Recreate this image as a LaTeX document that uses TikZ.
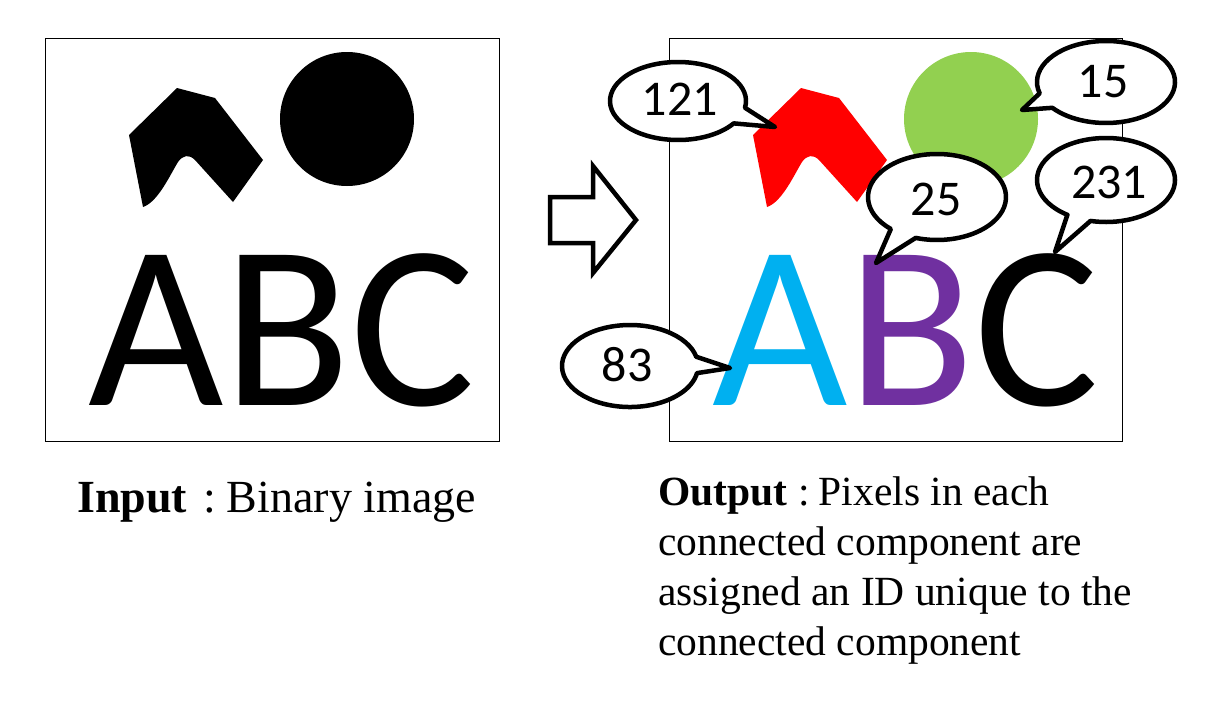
\documentclass[tikz,border=0pt]{standalone}
\usepackage{fontspec}
\setmainfont{Liberation Serif}
\newfontfamily\calfont{Carlito}
\usetikzlibrary{calc}
\definecolor{cred}{HTML}{FF0000}
\definecolor{cgreen}{HTML}{92D050}
\definecolor{ccyan}{HTML}{00B0F0}
\definecolor{cpurple}{HTML}{7030A0}
\begin{document}
\begin{tikzpicture}[x=1pt,y=-1pt,
  frame/.style={draw=black, line width=1pt},
  callout/.style={draw=black, fill=white, line width=4.5pt, line join=round},
  idtext/.style={font=\calfont\fontsize{50}{50}\selectfont, inner sep=0pt},
  bigtext/.style={font=\calfont\fontsize{234}{234}\selectfont, inner sep=0pt, anchor=base west},
  captext/.style={font=\fontsize{41.5}{50}\selectfont, inner sep=0pt, anchor=base west},
  blockarrow/.style={draw=black, line width=4.5pt, line join=miter}]
\useasboundingbox (0,0) rectangle (1212,726);
% frames
\draw[frame] (45,38) rectangle (499,441);
\draw[frame] (669,38) rectangle (1122,441);
% input shapes
\fill[black] (129,135) -- (177,88) -- (215,98) -- (263,160) -- (233,202) -- (195,160)
  .. controls (189,154) and (183,155) .. (178,162)
  .. controls (170,175) and (158,202) .. (143,207) -- cycle;
\fill[black] (347,119) circle[radius=67];
\node[bigtext] (abcin) at (88,405) {ABC};
% output shapes
\begin{scope}[xshift=624pt]
\fill[cred] (129,135) -- (177,88) -- (215,98) -- (263,160) -- (233,202) -- (195,160)
  .. controls (189,154) and (183,155) .. (178,162)
  .. controls (170,175) and (158,202) .. (143,207) -- cycle;
\fill[cgreen] (347,119) circle[radius=67];
\end{scope}
\node[bigtext] (abcout) at (712,405) {\textcolor{ccyan}{A}\textcolor{cpurple}{B}C};
% block arrow
\draw[blockarrow] (550,197) -- (593,197) -- (593,166) -- (636,220) -- (593,273) -- (593,243) -- (550,243) -- cycle;
% callouts
\coordinate (t121) at (775,127);
\draw[callout] ($(678,101)+(10:68 and 39)$) arc[start angle=10, end angle=-325, x radius=68, y radius=39] -- (t121) -- cycle;
\node[idtext] (n121) at (680,99) {121};
\coordinate (t15) at (1022,110);
\draw[callout] ($(1106,82)+(164:69 and 41)$) arc[start angle=164, end angle=501, x radius=69, y radius=41] -- (t15) -- cycle;
\node[idtext] (n15) at (1103,82) {15};
\coordinate (t25) at (876,263);
\draw[callout] ($(937,197)+(132:69 and 43)$) arc[start angle=132, end angle=468, x radius=69, y radius=43] -- (t25) -- cycle;
\node[idtext] (n25) at (936,199) {25};
\coordinate (t231) at (1055,252);
\draw[callout] ($(1106,180)+(124:69 and 42)$) arc[start angle=124, end angle=463, x radius=69, y radius=42] -- (t231) -- cycle;
\node[idtext] (n231) at (1109,182) {231};
\coordinate (t83) at (730,368);
\draw[callout] ($(630,366)+(-13:68 and 41)$) arc[start angle=-13, end angle=-350, x radius=68, y radius=41] -- (t83) -- cycle;
\node[idtext] (n83) at (627,365) {83};
% captions
\node[captext, font=\fontsize{46}{50}\selectfont] (capin) at (77,512) {\textbf{Input}\hspace{16pt}:\hspace{11pt}Binary image};
\node[captext] (cap1) at (658,505) {\textbf{Output}\hspace{11pt}:\hspace{9pt}Pixels in each};
\node[captext] (cap2) at (658,555) {connected component are};
\node[captext] (cap3) at (658,605) {assigned an ID unique to the};
\node[captext] (cap4) at (658,655) {connected component};
\end{tikzpicture}
\end{document}
